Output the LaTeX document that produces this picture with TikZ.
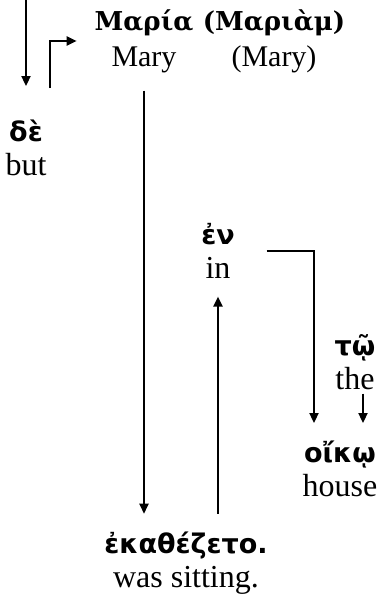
\documentclass[tikz,border=0pt]{standalone}
\usepackage{fontspec}
\setmainfont{Liberation Serif}
\newfontfamily\grk{DejaVu Sans}
\newfontfamily\grkser{DejaVu Serif}
\usetikzlibrary{arrows.meta,calc}

\begin{document}
\begin{tikzpicture}[
    x=0.5pt, y=0.5pt,
    >={Triangle[length=5pt,width=4.5pt]},
    line width=1pt,
    word/.style={align=center, inner sep=2pt, outer sep=7pt, font=\fontsize{16}{17}\selectfont},
    top/.style={font=\fontsize{15}{18}\selectfont}
]
\useasboundingbox (0,0) rectangle (385,612);

% Sujeto
\node[word, top] (maria) at (144,571) {{\grkser\bfseries\fontsize{13}{16}\selectfont Μαρία}\\Mary};
\node[word, top] (mariam) at (274,571) {{\grkser\bfseries\fontsize{13}{16}\selectfont (Μαριὰμ)}\\(Mary)};

% Palabras
\node[word] (de) at (26,464) {{\grk\bfseries\fontsize{13.5}{15}\selectfont δὲ}\\but};
\node[word] (en) at (218,361) {{\grk\bfseries\fontsize{13.5}{15}\selectfont ἐν}\\in};
\node[word] (tw) at (355,250) {{\grk\bfseries\fontsize{13.5}{15}\selectfont τῷ}\\the};
\node[word] (oikw) at (340,143) {{\grk\bfseries\fontsize{13.5}{15}\selectfont οἴκῳ}\\house};
\node[word] (ekath) at (186,49) {{\grk\bfseries\fontsize{13.5}{15}\selectfont ἐκαθέζετο.}\\was sitting.};

% Conexiones
\coordinate (start) at (26,612);
\draw[->, shorten >=8pt] (start) -- (de.north);
\draw[->, shorten <=7pt] ([xshift=12pt]de.north) |- (maria.west);
\draw[->] (maria.south) -- (maria.south |- ekath.north);
\draw[->] (en.south |- ekath.north) -- (en.south);
\draw[->, shorten <=7pt] (en.east) -| ([xshift=-13pt]oikw.north);
\draw[->, shorten <=-7pt] ([xshift=4pt]tw.south) -- ([xshift=11.5pt]oikw.north);

\end{tikzpicture}
\end{document}
